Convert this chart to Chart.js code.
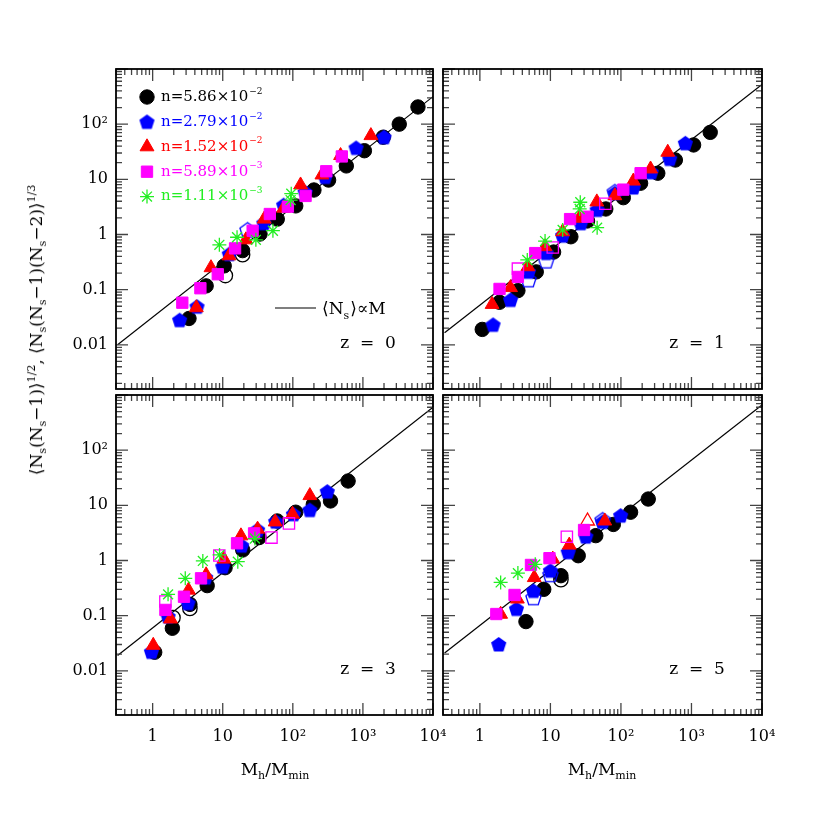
<!DOCTYPE html>
<html>
<head>
<title>Satellite count moments vs halo mass</title>
<script src="https://cdn.jsdelivr.net/npm/chart.js"></script>
<style>
  body { margin: 0; background: #fff; }
  #fig { position: relative; width: 830px; height: 830px; }
  #fig canvas { position: absolute; left: 0; top: 0; }
  .axt { position: absolute; font-family: "DejaVu Serif", serif; font-size: 17px; color: #000; white-space: nowrap; transform: translate(-50%, -50%); }
  .axt sub { font-size: 11px; vertical-align: -4px; }
  .axt sup { font-size: 11px; vertical-align: 7px; }
  #ytitle { left: 37px; top: 330px; transform: translate(-50%, -50%) rotate(-90deg); }
</style>
</head>
<body>
<div id="fig">
  <canvas id="p0" width="830" height="830"></canvas>
  <canvas id="p1" width="830" height="830"></canvas>
  <canvas id="p2" width="830" height="830"></canvas>
  <canvas id="p3" width="830" height="830"></canvas>
  <div class="axt" id="ytitle">⟨N<sub>s</sub>(N<sub>s</sub>−1)⟩<sup>1/2</sup>, ⟨N<sub>s</sub>(N<sub>s</sub>−1)(N<sub>s</sub>−2)⟩<sup>1/3</sup></div>
  <div class="axt" style="left:275px;top:770px">M<sub>h</sub>/M<sub>min</sub></div>
  <div class="axt" style="left:602px;top:770px">M<sub>h</sub>/M<sub>min</sub></div>
</div>
<script>
// axes
const xRange = [0.316, 10000];
const yRange = [0.00158, 1000];
const xTicks = [1, 10, 100, 1000, 10000];
const xTickLabels = ['1', '10', '10²', '10³', '10⁴'];
const yTicks = [0.01, 0.1, 1, 10, 100];
const yTickLabels = ['0.01', '0.1', '1', '10', '10²'];

// legend
const seriesKeys = ['n586', 'n279', 'n152', 'n589', 'n111'];
const legendBase = ['n=5.86×10', 'n=2.79×10', 'n=1.52×10', 'n=5.89×10', 'n=1.11×10'];
const legendExp = ['−2', '−2', '−2', '−3', '−3'];
const panelLabels = ['z = 0', 'z = 1', 'z = 3', 'z = 5'];

// <Ns> ∝ M reference line end points
const lineX = [0.316, 10000];
const lineY_z0 = [0.010, 316];
const lineY_z1 = [0.0166, 525];
const lineY_z3 = [0.019, 600];
const lineY_z5 = [0.021, 660];

// z = 0
const z0_n586 = [[3.3,0.030],[5.8,0.117],[10.5,0.27],[19.2,0.51],[34,1.02],[60,1.9],[110,3.3],[200,6.4],[324,9.7],[580,17.5],[1050,33],[1950,58],[3300,100],[6100,205]];
const z0_n279 = [[2.43,0.028],[4.3,0.049],[12.4,0.44],[38.6,1.6],[74,3.4],[150,5.8],[290,11],[800,37],[2000,58]];
const z0_n152 = [[4.2,0.047],[6.8,0.25],[12.3,0.41],[21.4,0.8],[39,1.9],[74,3.0],[129,7.9],[260,12],[480,27],[1300,62]];
const z0_n589 = [[2.65,0.058],[4.8,0.106],[8.5,0.19],[15,0.56],[26.7,1.17],[47,2.35],[85,3.2],[152,5.0],[300,14],[500,26]];
const z0_n111 = [[8.95,0.65],[16,0.89],[29.7,0.8],[52,1.17],[93,4.2],[95,5.5]];
const z0_open_n586 = [[10.9,0.18],[19.2,0.43]];
const z0_open_n279 = [[22.6,1.2]];

// z = 1
const z1_n586 = [[1.08,0.019],[1.9,0.059],[3.46,0.096],[6.3,0.21],[11.1,0.48],[19.5,0.91],[33.6,1.76],[61,2.9],[108,4.65],[190,8.5],[333,12.9],[591,22.4],[1072,42],[1845,71]];
const z1_n279 = [[1.54,0.023],[2.72,0.065],[4.9,0.21],[8.7,0.46],[14.9,0.95],[27,1.6],[46,2.78],[82,5.6],[150,7.1],[269,13.4],[492,23.4],[819,45]];
const z1_n152 = [[1.49,0.054],[2.72,0.109],[4.8,0.26],[8.4,0.60],[14.9,1.12],[25.6,1.97],[45.5,3.9],[82,5.05],[150,9.3],[263,15.4],[461,31]];
const z1_n589 = [[1.9,0.103],[3.46,0.17],[6.1,0.46],[19,1.9],[33.6,2.1],[108,6.5],[190,12.9]];
const z1_n111 = [[4.7,0.345],[8.4,0.76],[14.9,1.21],[26.5,3.84],[26,2.9],[46,1.33]];
const z1_open_n279 = [[4.9,0.15],[8.7,0.33],[82,5.9]];
const z1_open_n589 = [[3.46,0.24],[10.8,0.58],[60,3.6]];

// z = 3
const z3_n586 = [[1.07,0.0217],[1.91,0.059],[3.4,0.16],[6.0,0.35],[10.8,0.74],[19.3,1.55],[33,2.6],[60,5.2],[110,7.5],[196,10.4],[345,12],[615,27.6]];
const z3_n279 = [[0.96,0.022],[1.66,0.096],[3.2,0.168],[5.7,0.49],[10,0.77],[18.6,1.85],[31.4,3.57],[57,5.05],[102,6.9],[175,8.2],[310,17.7]];
const z3_n152 = [[1.02,0.029],[1.8,0.087],[3.25,0.29],[5.8,0.55],[10.4,1.06],[18.2,2.8],[31.4,3.7],[56,5.0],[99,6.9],[175,15]];
const z3_n589 = [[1.52,0.127],[2.8,0.22],[4.9,0.475],[16,2.05],[28,3.1]];
const z3_n111 = [[1.66,0.243],[2.92,0.475],[5.2,0.98],[9.0,1.26],[16.4,0.95],[28.8,2.5]];
const z3_open_n586 = [[1.95,0.092],[3.4,0.135]];
const z3_open_n589 = [[1.52,0.18],[8.95,1.23],[49.6,2.6],[88,4.7]];

// z = 5
const z5_n586 = [[4.5,0.078],[8.05,0.30],[14.1,0.53],[24.8,1.22],[44,2.82],[78,4.5],[137,7.5],[244,13]];
const z5_n279 = [[1.85,0.030],[3.3,0.132],[5.75,0.28],[10,0.65],[17.9,1.41],[31.8,2.7],[55,5.0],[99,6.5]];
const z5_n152 = [[1.97,0.106],[3.4,0.2],[5.9,0.49],[10.8,1.06],[18.5,1.9],[59,5.2]];
const z5_n589 = [[1.71,0.107],[3.1,0.237],[5.3,0.83],[9.7,1.1],[30,3.57]];
const z5_n111 = [[1.97,0.40],[3.46,0.59],[6.1,0.85]];
const z5_open_n586 = [[14.1,0.45]];
const z5_open_n279 = [[5.75,0.21],[10,0.55],[55,5.4]];
const z5_open_n152 = [[33.6,5.2]];
const z5_open_n589 = [[17.1,2.7]];

const FONT = '"DejaVu Serif", serif';
const colors = { n586: '#000000', n279: '#0000ff', n152: '#ff0000', n589: '#ff00ff', n111: '#22ee22' };
const drawOrder = { n586: 5, n279: 4, n152: 3, n589: 2, n111: 1 };

// pentagon marker (not built in)
function pentagon(color, filled) {
  const c = document.createElement('canvas');
  c.width = 19; c.height = 19;
  const g = c.getContext('2d');
  g.beginPath();
  for (let i = 0; i < 5; i++) {
    const a = -Math.PI / 2 + i * 2 * Math.PI / 5;
    const px = 9.5 + 8 * Math.cos(a), py = 10 + 8 * Math.sin(a);
    if (i) g.lineTo(px, py); else g.moveTo(px, py);
  }
  g.closePath();
  if (filled) { g.fillStyle = color; g.fill(); }
  else { g.strokeStyle = color; g.lineWidth = 1.3; g.stroke(); }
  return c;
}

function markerStyle(key, filled) {
  const col = colors[key];
  const base = { borderColor: col, backgroundColor: filled ? col : 'rgba(0,0,0,0)', borderWidth: filled ? 1 : 1.3 };
  if (key === 'n586') return Object.assign(base, { pointStyle: 'circle', pointRadius: 7.2 });
  if (key === 'n279') return Object.assign(base, { pointStyle: pentagon(col, filled), pointRadius: 8 });
  if (key === 'n152') return Object.assign(base, { pointStyle: 'triangle', pointRadius: 8 });
  if (key === 'n589') return Object.assign(base, { pointStyle: 'rect', pointRadius: 8 });
  return Object.assign(base, { pointStyle: 'star', pointRadius: 7, borderWidth: 1.3 });
}

function toPts(arr) { return arr.map(p => ({ x: p[0], y: p[1] })); }

function drawSup(ctx, base, sup, x, y, size) {
  ctx.font = size + 'px ' + FONT;
  ctx.fillText(base, x, y);
  const w = ctx.measureText(base).width;
  ctx.font = Math.round(size * 0.62) + 'px ' + FONT;
  ctx.fillText(sup, x + w + 1, y - size * 0.38);
}

const frameTicks = {
  id: 'frameTicks',
  afterDatasetsDraw(chart) {
    const { ctx, chartArea: a, scales } = chart;
    const xs = scales.x, ys = scales.y;
    ctx.save();
    ctx.strokeStyle = '#444';
    ctx.lineWidth = 1.3;
    ctx.beginPath();
    for (let d = -1; d <= 4; d++) for (let m = 1; m <= 9; m++) {
      const v = m * 10 ** d;
      if (v < xs.min * 0.999 || v > xs.max * 1.001) continue;
      const p = xs.getPixelForValue(v), len = m === 1 ? 12 : 6;
      ctx.moveTo(p, a.bottom); ctx.lineTo(p, a.bottom - len);
      ctx.moveTo(p, a.top); ctx.lineTo(p, a.top + len);
    }
    for (let d = -3; d <= 3; d++) for (let m = 1; m <= 9; m++) {
      const v = m * 10 ** d;
      if (v < ys.min * 0.999 || v > ys.max * 1.001) continue;
      const p = ys.getPixelForValue(v), len = m === 1 ? 12 : 6;
      ctx.moveTo(a.left, p); ctx.lineTo(a.left + len, p);
      ctx.moveTo(a.right, p); ctx.lineTo(a.right - len, p);
    }
    ctx.stroke();
    ctx.strokeStyle = '#000';
    ctx.lineWidth = 1.8;
    ctx.strokeRect(a.left, a.top, a.right - a.left, a.bottom - a.top);
    ctx.restore();
  }
};

function panelText(label, withLegend) {
  return {
    id: 'panelText',
    afterDraw(chart) {
      const { ctx, chartArea: a } = chart;
      ctx.save();
      ctx.fillStyle = '#000';
      ctx.textBaseline = 'middle';
      ctx.textAlign = 'center';
      ctx.font = '17px ' + FONT;
      ctx.fillText(label.replace(/ /g, '  '), a.right - 65, a.bottom - 45);
      ctx.textAlign = 'left';
      if (withLegend) {
        seriesKeys.forEach((k, i) => {
          const y = a.top + 28 + i * 24.9;
          const st = markerStyle(k, true);
          ctx.fillStyle = colors[k];
          ctx.strokeStyle = colors[k];
          ctx.lineWidth = st.borderWidth;
          Chart.helpers.drawPoint(ctx, { pointStyle: st.pointStyle, radius: st.pointRadius, rotation: 0, borderWidth: st.borderWidth }, a.left + 31, y);
          drawSup(ctx, legendBase[i], legendExp[i], a.left + 45, y, 15);
        });
        // proportional line key
        const ly = a.bottom - 81;
        ctx.strokeStyle = '#000';
        ctx.lineWidth = 1.2;
        ctx.beginPath();
        ctx.moveTo(a.left + 159, ly); ctx.lineTo(a.left + 200, ly);
        ctx.stroke();
        ctx.fillStyle = '#000';
        let x = a.left + 206;
        ctx.font = '17px ' + FONT;
        ctx.fillText('⟨N', x, ly + 2);
        x += ctx.measureText('⟨N').width;
        ctx.font = '11px ' + FONT;
        ctx.fillText('s', x, ly + 8);
        x += ctx.measureText('s').width + 1;
        ctx.font = '17px ' + FONT;
        ctx.fillText('⟩∝M', x, ly + 2);
      }
      ctx.restore();
    }
  };
}

function makePanel(p) {
  const datasets = [{
    type: 'scatter', showLine: true, data: toPts([[lineX[0], p.lineY[0]], [lineX[1], p.lineY[1]]]),
    borderColor: '#000', borderWidth: 1.2, pointRadius: 0, order: 10
  }];
  seriesKeys.forEach(k => {
    if (p.open[k]) datasets.push(Object.assign({ data: toPts(p.open[k]), order: drawOrder[k] + 0.5 }, markerStyle(k, false)));
    if (p.filled[k]) datasets.push(Object.assign({ data: toPts(p.filled[k]), order: drawOrder[k] }, markerStyle(k, true)));
  });
  const YW = 60, XH = 40;
  const [l, t, r, b] = p.box;
  new Chart(document.getElementById(p.canvas), {
    type: 'scatter',
    data: { datasets },
    options: {
      responsive: false, animation: false, events: [],
      layout: { autoPadding: false, padding: { left: l - YW, top: t, right: 830 - r, bottom: 830 - b - XH } },
      plugins: { legend: { display: false }, tooltip: { enabled: false } },
      scales: {
        x: {
          type: 'logarithmic', position: 'bottom', min: xRange[0], max: xRange[1],
          afterFit: s => { s.height = XH; },
          afterBuildTicks: s => { s.ticks = xTicks.map(v => ({ value: v })); },
          grid: { display: false, drawTicks: false }, border: { display: false },
          ticks: { display: p.showX, autoSkip: false, maxRotation: 0, padding: 12, color: '#000',
            font: { family: FONT, size: 16 }, callback: (v, i) => xTickLabels[i] }
        },
        y: {
          type: 'logarithmic', position: 'left', min: yRange[0], max: yRange[1],
          afterFit: s => { s.width = YW; },
          afterBuildTicks: s => { s.ticks = yTicks.map(v => ({ value: v })); },
          grid: { display: false, drawTicks: false }, border: { display: false },
          ticks: { display: p.showY, autoSkip: false, padding: 8, color: '#000',
            font: { family: FONT, size: 16 }, callback: (v, i) => yTickLabels[i] }
        }
      }
    },
    plugins: [frameTicks, panelText(p.label, p.legend)]
  });
}

const panels = [
  { canvas: 'p0', box: [116, 69, 433, 389], showX: false, showY: true, label: panelLabels[0], legend: true, lineY: lineY_z0,
    filled: { n586: z0_n586, n279: z0_n279, n152: z0_n152, n589: z0_n589, n111: z0_n111 },
    open: { n586: z0_open_n586, n279: z0_open_n279 } },
  { canvas: 'p1', box: [443, 69, 762, 389], showX: false, showY: false, label: panelLabels[1], legend: false, lineY: lineY_z1,
    filled: { n586: z1_n586, n279: z1_n279, n152: z1_n152, n589: z1_n589, n111: z1_n111 },
    open: { n279: z1_open_n279, n589: z1_open_n589 } },
  { canvas: 'p2', box: [116, 395, 433, 715], showX: true, showY: true, label: panelLabels[2], legend: false, lineY: lineY_z3,
    filled: { n586: z3_n586, n279: z3_n279, n152: z3_n152, n589: z3_n589, n111: z3_n111 },
    open: { n586: z3_open_n586, n589: z3_open_n589 } },
  { canvas: 'p3', box: [443, 395, 762, 715], showX: true, showY: false, label: panelLabels[3], legend: false, lineY: lineY_z5,
    filled: { n586: z5_n586, n279: z5_n279, n152: z5_n152, n589: z5_n589, n111: z5_n111 },
    open: { n586: z5_open_n586, n279: z5_open_n279, n152: z5_open_n152, n589: z5_open_n589 } }
];

panels.forEach(makePanel);
</script>
</body>
</html>
